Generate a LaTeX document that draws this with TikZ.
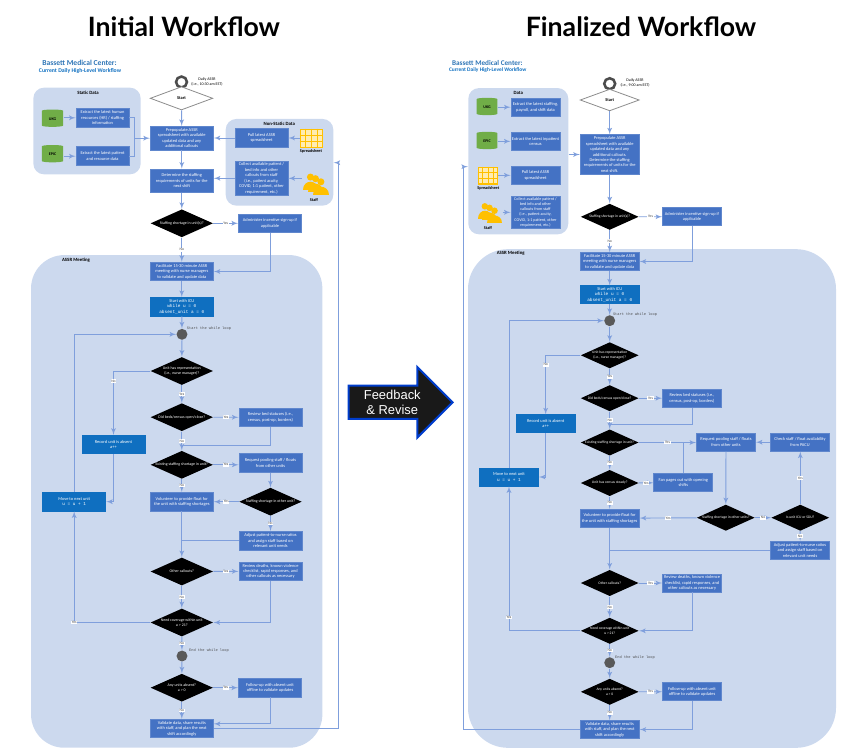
\documentclass[tikz,border=0pt]{standalone}
\usepackage{fontspec}
\setmainfont{Carlito}
\setmonofont{Liberation Mono}
\newfontfamily\titlefont{Lato}
\newfontfamily\arrowfont{Liberation Sans}
\usetikzlibrary{shapes,shapes.arrows,arrows,positioning,calc}

\definecolor{panelblue}{HTML}{CCD9EE}
\definecolor{boxblue}{HTML}{4472C4}
\definecolor{startblue}{HTML}{0F6FC0}
\definecolor{linkblue}{HTML}{7F9FDC}
\definecolor{headblue}{HTML}{2E75B6}
\definecolor{gold}{HTML}{FFC000}
\definecolor{green}{HTML}{70AD47}

% the grid on a spreadsheet icon
\newcommand{\sheetlines}[1]{
  \foreach \i in {1,2,3}
    \draw[gold, line width=.7pt] ($(#1.north west)!\i/4!(#1.north east)$) -- ($(#1.south west)!\i/4!(#1.south east)$);
  \foreach \i in {1,2}
    \draw[gold, line width=.7pt] ($(#1.north west)!\i/3!(#1.south west)$) -- ($(#1.north east)!\i/3!(#1.south east)$);
}
% three people, back to front
\newcommand{\staffpeople}[2]{
  \begin{scope}[shift={(#1)}, scale=#2]
    \foreach \px/\py in {-5.3/-7, 0/-5.3, 5.7/-2} {
      \fill[gold] (\px,\py) circle (3.7);
      \fill[gold] (\px-8.3,\py+14) .. controls (\px-8.3,\py+2) and (\px+8.3,\py+2) .. (\px+8.3,\py+14) -- cycle;
    }
  \end{scope}
}

\begin{document}
\begin{tikzpicture}[x=.75pt, y=-.75pt, >=latex', line width=.6pt, font=\fontsize{3.3}{4.1}\selectfont]
  \tikzstyle{panel} = [rectangle, fill=panelblue, rounded corners=8pt, inner sep=0pt]
  \tikzstyle{box} = [draw=boxblue!85!white, fill=boxblue, text=white, rectangle, align=center, inner sep=0pt, minimum width=47.4pt, minimum height=14pt]
  \tikzstyle{boxB} = [box, minimum width=44.3pt, minimum height=13.4pt]
  \tikzstyle{sbox} = [box, minimum width=39.8pt]
  \tikzstyle{sboxB} = [boxB, minimum width=36.8pt]
  \tikzstyle{runbox} = [box, fill=startblue, draw=startblue]
  \tikzstyle{runboxB} = [boxB, fill=startblue, draw=startblue]
  \tikzstyle{dec} = [diamond, fill=black, inner sep=0pt, minimum width=46.9pt, minimum height=21pt]
  \tikzstyle{decB} = [dec, minimum width=43.5pt, minimum height=19.7pt]
  \tikzstyle{dectxt} = [text=white, align=center, inner sep=0pt, font=\fontsize{2.95}{3.8}\selectfont]
  \tikzstyle{dectxtB} = [dectxt, font=\fontsize{2.75}{3.6}\selectfont]
  \tikzstyle{startdec} = [diamond, draw=black!45, fill=white, inner sep=0pt, minimum width=46.9pt, minimum height=17.5pt]
  \tikzstyle{startdecB} = [startdec, minimum width=44.3pt, minimum height=16.3pt]
  \tikzstyle{ring} = [circle, draw=black!70, fill=white, line width=1.9pt, inner sep=0pt, minimum size=8.2pt]
  \tikzstyle{loopdot} = [circle, fill=black!65, inner sep=0pt, minimum size=8.2pt]
  \tikzstyle{can} = [cylinder, shape border rotate=90, aspect=.35, fill=green, inner sep=0pt, minimum width=16pt, minimum height=13pt, font=\fontsize{3}{4}\bfseries\selectfont]
  \tikzstyle{sheet} = [rectangle, draw=gold, fill=gold!30!white, line width=.9pt, inner sep=0pt]
  \tikzstyle{staffspot} = [rectangle, inner sep=0pt, minimum width=20pt, minimum height=18pt]
  \tikzstyle{paneltitle} = [inner sep=0pt, font=\fontsize{3.6}{4.4}\bfseries\selectfont]
  \tikzstyle{icontitle} = [inner sep=0pt, font=\fontsize{3.2}{4}\bfseries\selectfont]
  \tikzstyle{note} = [inner sep=0pt, align=center, font=\fontsize{3}{3.8}\selectfont]
  \tikzstyle{loopnote} = [inner sep=0pt, text=black!70, font=\fontsize{2.75}{3.5}\ttfamily\selectfont]
  \tikzstyle{lab} = [fill=white, inner sep=.5pt, font=\fontsize{2.8}{3}\selectfont, text=black!70]
  \tikzstyle{link} = [draw=linkblue, line width=.7pt]

  \useasboundingbox (0,0) rectangle (842,750);

  \node[font=\titlefont\fontsize{20}{24}\bfseries\selectfont] (titleA) at (184,27) {Initial Workflow};
  \node[font=\titlefont\fontsize{20}{24}\bfseries\selectfont] (titleB) at (641,27) {Finalized Workflow};
  \node[text=headblue, font=\fontsize{5.7}{7}\bfseries\selectfont] (orgA) at (79.5,63) {Bassett Medical Center:};
  \node[text=startblue, font=\fontsize{4.3}{5}\bfseries\selectfont] (subA) at (80,71) {Current Daily High-Level Workflow};
  \node[text=headblue, font=\fontsize{5.4}{7}\bfseries\selectfont] (orgB) at (487.3,62.7) {Bassett Medical Center:};
  \node[text=startblue, font=\fontsize{4.05}{5}\bfseries\selectfont] (subB) at (487.7,70.3) {Current Daily High-Level Workflow};

  % initial workflow
  \node[panel, minimum width=80.5pt, minimum height=65pt] (staticA) at (87,131) {};
  \node[panel, minimum width=80.7pt, minimum height=65pt] (varA) at (279.5,162.3) {};
  \node[panel, rounded corners=25pt, minimum width=218.5pt, minimum height=369.5pt] (meetA) at (176.7,501.4) {};
  \node[paneltitle] (staticcapA) at (88,93) {Static Data};
  \node[paneltitle] (varcapA) at (279.3,124) {Non-Static Data};
  \node[paneltitle] (meetcapA) at (76,260) {ASSR Meeting};

  \node[ring] (ringA) at (181.5,82) {};
  \node[note] (dailyA) at (207,82) {Daily ASSR\\(i.e., 10:30 am EST)};
  \node[startdec, font=\fontsize{3.3}{4}\bfseries\selectfont] (startA) at (181.5,98.3) {Start};
  \node[can] (ukgA) at (52.5,119) {UKG};
  \node[can] (epicA) at (52.5,154.5) {EPIC};
  \node[sbox] (hrA) at (102.5,117.8) {Extract the latest human\\resources (HR) / staffing\\information};
  \node[sbox] (patA) at (102.5,156.2) {Extract the latest patient\\and resource data};
  \node[box, minimum height=17.8pt] (prepA) at (181.8,138.2) {Prepopulate ASSR\\spreadsheet with available\\updated data and any\\additional callouts};
  \node[box, minimum height=17.5pt] (needA) at (181.8,180.7) {Determine the staffing\\requirements of units for the\\next shift};
  \node[sbox] (pullA) at (261.5,138) {Pull latest ASSR\\spreadsheet};
  \node[sbox, minimum height=26pt] (askA) at (261.5,178.3) {Collect available patient /\\bed info and other\\callouts from staff\\(i.e., patient acuity,\\COVID, 1:1 patient, other\\requirement, etc.)};
  \node[sheet, minimum width=16.5pt, minimum height=13.5pt] (sheetA) at (311.3,138.2) {};
  \sheetlines{sheetA}
  \node[icontitle] (sheetcapA) at (311,151.3) {Spreadsheet};
  \node[staffspot] (staffA) at (315.5,183.7) {};
  \staffpeople{staffA}{.95}
  \node[icontitle] (staffcapA) at (314,200) {Staff};

  \node[dec, label={[dectxt]center:Staffing shortage in unit(s)?}] (shortA) at (181.8,223.3) {};
  \node[box] (signA) at (270,223.3) {Administer incentive sign-up if\\applicable};
  \node[box] (metA) at (181.8,271.5) {Facilitate 15-30 minute ASSR\\meeting with nurse managers\\to validate and update data};
  \node[runbox] (firstA) at (181.8,306.7) {Start with ICU\\{\ttfamily while  u = 0}\\{\ttfamily absent\_unit  a = 0}};
  \node[loopdot] (loopA) at (182,334.3) {};
  \node[loopnote] (loopcapA) at (209,328.3) {Start the while loop};
  \node[dec, label={[dectxt]center:{Unit has representation\\(i.e., nurse manager)?}}] (repA) at (181.8,371) {};
  \node[runbox] (absentA) at (113.5,444.5) {Record unit is absent\\a++};
  \node[dec, label={[dectxt]center:Did beds/census open/close?}] (bedA) at (181.8,417.2) {};
  \node[box] (censusA) at (270.5,417.3) {Review bed statuses (i.e.,\\census, post-op, borders)};
  \node[dec, label={[dectxt]center:Existing staffing shortage in unit?}] (gapA) at (181.8,464.8) {};
  \node[box] (floatA) at (270.5,463) {Request pooling staff / floats\\from other units};
  \node[dec, label={[dectxt]center:Staffing shortage in other unit?}] (otherA) at (270.5,501.7) {};
  \node[box] (volA) at (181.8,501.7) {Volunteer to provide float for\\the unit with staffing shortages};
  \node[runbox] (nextA) at (74.2,501.7) {Move to next unit\\{\ttfamily u = u + 1}};
  \node[box] (ratioA) at (270.5,540.7) {Adjust patient-to-nurse ratios\\and assign staff based on\\relevant unit needs};
  \node[dec, label={[dectxt]center:Other callouts?}] (callA) at (181.8,571.5) {};
  \node[box] (deathA) at (270.5,571.3) {Review deaths, known violence\\checklist, rapid responses, and\\other callouts as necessary};
  \node[dec, label={[dectxt]center:{Need coverage within unit\\u > 21?}}] (moreA) at (181.8,622.5) {};
  \node[loopdot] (endA) at (182,656) {};
  \node[loopnote] (endcapA) at (209,650.7) {End the while loop};
  \node[dec, label={[dectxt]center:{Any units absent?\\a > 0}}] (anyA) at (181.8,687.7) {};
  \node[box] (followA) at (270,687.7) {Follow-up with absent unit\\offline to validate updates};
  \node[box] (checkA) at (181.8,728.5) {Validate data, share results\\with staff, and plan the next\\shift accordingly};

  \coordinate (joinA) at (134,138.2);
  \coordinate (rejoinA) at (181.8,445);
  \coordinate (backA) at (338.3,162.7);
  \draw[link, ->] (ukgA.east |- hrA.west) -- (hrA.west);
  \draw[link, ->] (epicA.east |- patA.west) -- (patA.west);
  \draw[link] (hrA.east) -| (joinA);
  \draw[link] (patA.east) -| (joinA);
  \draw[link, ->] (joinA) -- (prepA.west);
  \draw[link, ->] (startA) -- (prepA);
  \draw[link, ->] (prepA) -- (needA);
  \draw[link, ->] (needA) -- (shortA);
  \draw[link, ->] (pullA.west) -- (pullA.west -| prepA.east);
  \draw[link, ->] (askA.west) -- (askA.west -| needA.east);
  \draw[link, ->] (sheetA.west |- pullA.east) -- (pullA.east);
  \draw[link, ->] (askA.east -| staffA.west) -- (askA.east);
  \draw[link, ->] (shortA) -- node[lab] {Yes} (signA);
  \draw[link, ->] (shortA) -- node[lab] {No} (metA);
  \draw[link, ->] (signA.south) |- (metA.east);
  \draw[link, ->] (metA) -- (firstA);
  \draw[link, ->] (firstA) -- (loopA);
  \draw[link, ->] (loopA) -- (repA);
  \draw[link, ->] (repA.west) -| node[lab, pos=.58] {No} (absentA.north);
  \draw[link, ->] (repA) -- node[lab] {Yes} (bedA);
  \draw[link, ->] (bedA) -- node[lab] {Yes} (censusA);
  \draw[link, ->] (bedA) -- node[lab] {No} (gapA);
  \draw[link] (censusA.south) |- (rejoinA);
  \draw[link, ->] (gapA.east) -- node[lab] {Yes} (gapA.east -| floatA.west);
  \draw[link, ->] (gapA) -- node[lab] {No} (volA);
  \draw[link, ->] (floatA) -- (otherA);
  \draw[link, ->] (otherA) -- node[lab] {Yes} (volA);
  \draw[link, ->] (otherA) -- node[lab] {No} (ratioA);
  \draw[link, ->] (absentA.south) |- (nextA.east);
  \draw[link, ->] (nextA.north) |- (loopA.west);
  \draw[link, ->] (volA) -- (callA);
  \draw[link] (ratioA.west) -- (ratioA.west -| volA.south);
  \draw[link, ->] (callA) -- node[lab] {Yes} (deathA);
  \draw[link, ->] (callA) -- node[lab] {No} (moreA);
  \draw[link, ->] (deathA.south) |- (moreA.east);
  \draw[link, ->] (moreA.west) -| node[lab, pos=.5] {Yes} (nextA.south);
  \draw[link, ->] (moreA) -- node[lab] {No} (endA);
  \draw[link, ->] (endA) -- (anyA);
  \draw[link, ->] (anyA) -- node[lab] {Yes} (followA);
  \draw[link, ->] (anyA) -- node[lab] {No} (checkA);
  \draw[link, ->] (followA.south) |- ([yshift=3.5pt]checkA.east);
  \draw[link] (checkA.east) -| (backA);
  \draw[link, ->] (backA) -- (backA -| varA.east);

  % change between the two
  \node[single arrow, draw=blue!70!cyan!80!black, fill=black!90, text=white, align=center, line width=1.5pt, anchor=tip, inner sep=1pt, minimum height=78pt, minimum width=53pt, single arrow head extend=12.5pt, font=\arrowfont\fontsize{9.7}{11.5}\selectfont] (reviseAB) at (454,402.3) {Feedback\\\& Revise};

  % finalized workflow
  \node[panel, minimum width=75pt, minimum height=109.7pt] (dataB) at (518.3,161.2) {};
  \node[panel, rounded corners=30pt, minimum width=276pt, minimum height=374pt] (meetB) at (652,498.5) {};
  \node[paneltitle] (datacapB) at (518.3,92.7) {Data};
  \node[paneltitle] (meetcapB) at (510.7,253.3) {ASSR Meeting};

  \node[ring] (ringB) at (609.7,83.7) {};
  \node[note] (dailyB) at (635,83) {Daily ASSR\\(i.e., 9:00 am EST)};
  \node[startdecB, font=\fontsize{3.3}{4}\bfseries\selectfont] (startB) at (609.7,100) {Start};
  \node[can, minimum width=15.5pt] (ukgB) at (487,107.3) {UKG};
  \node[can, minimum width=15.5pt] (epicB) at (487,141.3) {EPIC};
  \node[sheet, minimum width=14.5pt, minimum height=12.5pt] (sheetB) at (488,175.6) {};
  \sheetlines{sheetB}
  \node[icontitle] (sheetcapB) at (488.3,188) {Spreadsheet};
  \node[staffspot, minimum width=19pt, minimum height=16pt] (staffB) at (489.5,212.5) {};
  \staffpeople{staffB}{.88}
  \node[icontitle] (staffcapB) at (488,227.7) {Staff};
  \node[sboxB] (hrB) at (535.5,107.2) {Extract the latest staffing,\\payroll, and shift data};
  \node[sboxB] (patB) at (535.5,141.3) {Extract the latest inpatient\\census};
  \node[sboxB] (pullB) at (535.5,175.3) {Pull latest ASSR\\spreadsheet};
  \node[sboxB, minimum height=24.5pt, font=\fontsize{3.1}{3.85}\selectfont] (askB) at (535.5,212.3) {Collect available patient /\\bed info and other\\callouts from staff\\(i.e., patient acuity,\\COVID, 1:1 patient, other\\requirement, etc.)};
  \node[boxB, minimum height=29.7pt] (prepB) at (609.7,154.5) {Prepopulate ASSR\\spreadsheet with available\\updated data and any\\additional callouts.\\Determine the staffing\\requirements of units for the\\next shift.};
  \node[decB, label={[dectxtB]center:Staffing shortage in unit(s)?}] (shortB) at (609.7,216.8) {};
  \node[boxB] (signB) at (692,216.7) {Administer incentive sign-up if\\applicable};
  \node[boxB] (metB) at (609.7,261.5) {Facilitate 15-30 minute ASSR\\meeting with nurse managers\\to validate and update data};
  \node[runboxB] (firstB) at (609.7,294.7) {Start with ICU\\{\ttfamily while  u = 0}\\{\ttfamily absent\_unit  a = 0}};
  \node[loopdot] (loopB) at (609.7,320.7) {};
  \node[loopnote] (loopcapB) at (635,314.7) {Start the while loop};
  \node[decB, label={[dectxtB]center:{Unit has representation\\(i.e., nurse manager)?}}] (repB) at (609.7,355.3) {};
  \node[runboxB] (absentB) at (545.7,423.7) {Record unit is absent\\a++};
  \node[decB, label={[dectxtB]center:Did beds/census open/close?}] (bedB) at (609.7,398.2) {};
  \node[boxB] (censusB) at (692,398.2) {Review bed statuses (i.e.,\\census, post-op, borders)};
  \node[decB, label={[dectxtB]center:Existing staffing shortage in unit?}] (gapB) at (609.7,442.5) {};
  \node[boxB] (floatB) at (726,442.2) {Request pooling staff / floats\\from other units};
  \node[boxB] (pacuB) at (800,442.2) {Check staff / float availability\\from PACU};
  \node[decB, label={[dectxtB]center:Unit has census steady?}] (steadyB) at (609.7,483) {};
  \node[boxB] (pagerB) at (683.3,482.7) {Fan pages out with opening\\shifts};
  \node[boxB] (volB) at (609.7,518.2) {Volunteer to provide float for\\the unit with staffing shortages};
  \node[decB, label={[dectxtB]center:Staffing shortage in other units?}] (otherB) at (725.8,517.7) {};
  \node[decB, label={[dectxtB]center:Is unit ICU or SDU?}] (icuB) at (800.3,517.7) {};
  \node[boxB] (ratioB) at (800,550.2) {Adjust patient-to-nurse ratios\\and assign staff based on\\relevant unit needs};
  \node[runboxB] (nextB) at (509,477) {Move to next unit\\{\ttfamily u = u + 1}};
  \node[decB, label={[dectxtB]center:Other callouts?}] (callB) at (609.7,583) {};
  \node[boxB] (deathB) at (692,583) {Review deaths, known violence\\checklist, rapid responses, and\\other callouts as necessary};
  \node[decB, label={[dectxtB]center:{Need coverage within unit\\u > 21?}}] (moreB) at (609.7,630.8) {};
  \node[loopdot] (endB) at (609.7,662.7) {};
  \node[loopnote] (endcapB) at (635,657.3) {End the while loop};
  \node[decB, label={[dectxtB]center:{Any units absent?\\a > 0}}] (anyB) at (609.7,691.8) {};
  \node[boxB] (followB) at (692,691.7) {Follow-up with absent unit\\offline to validate updates};
  \node[boxB] (checkB) at (609.7,729.5) {Validate data, share results\\with staff, and plan the next\\shift accordingly};

  \coordinate (rejoinB) at (609.7,424.3);
  \coordinate (backB) at (463.3,166.7);
  \draw[link, ->] (ukgB.east |- hrB.west) -- (hrB.west);
  \draw[link, ->] (epicB.east |- patB.west) -- (patB.west);
  \draw[link, ->] (sheetB.east |- pullB.west) -- (pullB.west);
  \draw[link, ->] (askB.west -| staffB.east) -- (askB.west);
  \draw[link, ->] (dataB.east |- prepB.west) -- (prepB.west);
  \draw[link, ->] (startB) -- (prepB);
  \draw[link, ->] (prepB) -- (shortB);
  \draw[link, ->] (shortB) -- node[lab] {Yes} (signB);
  \draw[link, ->] (shortB) -- node[lab] {No} (metB);
  \draw[link, ->] (signB.south) |- (metB.east);
  \draw[link, ->] (metB) -- (firstB);
  \draw[link, ->] (firstB) -- (loopB);
  \draw[link, ->] (loopB) -- (repB);
  \draw[link, ->] (repB.west) -| node[lab, pos=.58] {No} (absentB.north);
  \draw[link, ->] (repB) -- node[lab] {Yes} (bedB);
  \draw[link, ->] (bedB) -- node[lab] {Yes} (censusB);
  \draw[link, ->] (bedB) -- node[lab] {No} (gapB);
  \draw[link] (censusB.south) |- (rejoinB);
  \draw[link, ->] (gapB.east) -- node[lab] {Yes} (gapB.east -| floatB.west);
  \draw[link, ->] (gapB) -- node[lab] {No} (steadyB);
  \draw[link, ->] (pacuB) -- (floatB);
  \draw[link, ->] (steadyB) -- node[lab] {Yes} (pagerB);
  \draw[link] (pagerB.north) -- (pagerB.north |- gapB.east);
  \draw[link, ->] (steadyB) -- node[lab] {No} (volB);
  \draw[link, ->] (floatB) -- (otherB);
  \draw[link, ->] (otherB) -- node[lab] {Yes} (volB);
  \draw[link, ->] (otherB) -- node[lab] {No} (icuB);
  \draw[link, ->] (icuB.north) -- node[lab] {Yes} (icuB.north |- pacuB.south);
  \draw[link, ->] (icuB) -- node[lab] {No} (ratioB);
  \draw[link] (ratioB.west) -- (ratioB.west -| volB.south);
  \draw[link, ->] (absentB.south) |- (nextB.east);
  \draw[link, ->] (nextB.north) |- (loopB.west);
  \draw[link, ->] (volB) -- (callB);
  \draw[link, ->] (callB) -- node[lab] {Yes} (deathB);
  \draw[link, ->] (callB) -- node[lab] {No} (moreB);
  \draw[link, ->] (deathB.south) |- (moreB.east);
  \draw[link, ->] (moreB.west) -| node[lab, pos=.546] {Yes} (nextB.south);
  \draw[link, ->] (moreB) -- node[lab] {No} (endB);
  \draw[link, ->] (endB) -- (anyB);
  \draw[link, ->] (anyB) -- node[lab] {Yes} (followB);
  \draw[link, ->] (anyB) -- node[lab] {No} (checkB);
  \draw[link, ->] (followB.south) |- (checkB.east);
  \draw[link] (checkB.west) -| (backB);
  \draw[link, ->] (backB) -- (backB -| dataB.west);
\end{tikzpicture}
\end{document}
